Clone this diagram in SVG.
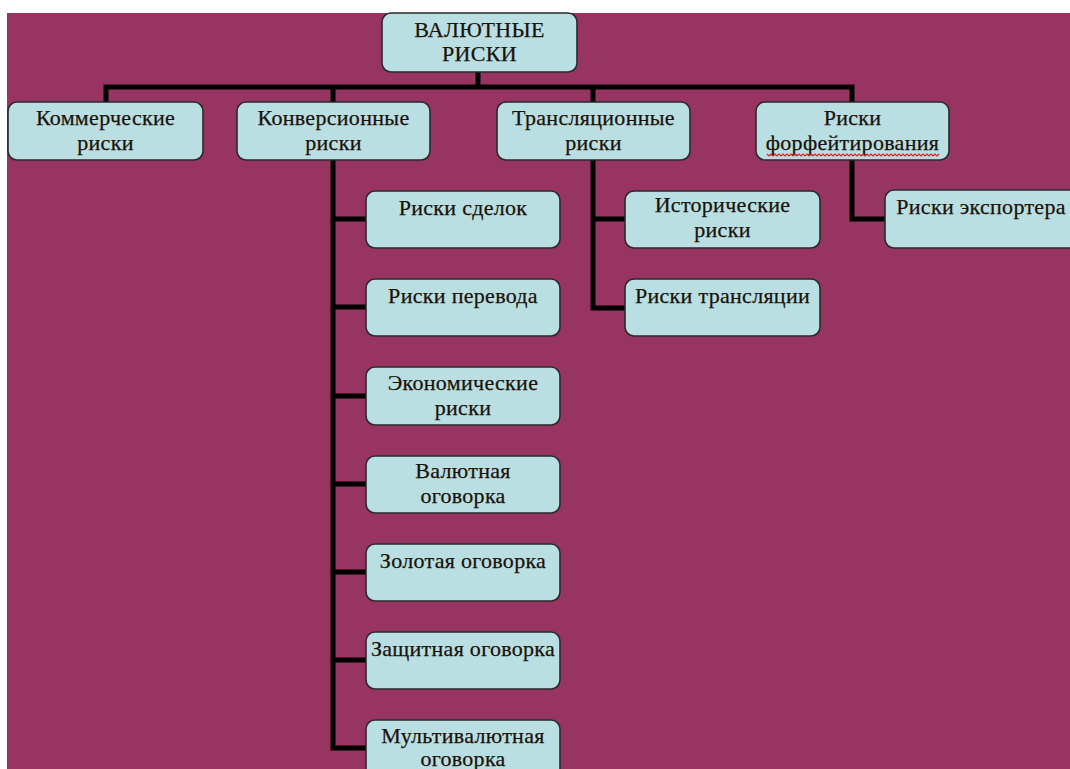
<svg xmlns="http://www.w3.org/2000/svg" width="1070" height="769" viewBox="0 0 1070 769">
<style>
.bx{fill:#BADFE3;stroke:#2a2a2a;stroke-width:1.6}
.t{font-family:'Liberation Serif','Times New Roman',serif;font-size:22px;letter-spacing:0.3px;fill:#1a1208;stroke:#1a1208;stroke-width:0.25;text-anchor:middle}
.c{fill:none;stroke:#000;stroke-width:5;stroke-linejoin:miter;stroke-linecap:butt}
</style>
<rect x="0" y="0" width="1070" height="769" fill="#ffffff"/>
<rect x="7" y="13" width="1063" height="756" fill="#973462"/>
<g id="connectors">
<path class="c" d="M478 72 V87"/>
<path class="c" d="M106 102 V87 H852 V102"/>
<path class="c" d="M333 87 V102"/>
<path class="c" d="M593 87 V102"/>
<path class="c" d="M333 160 V748 H366"/>
<path class="c" d="M333 219 H366 M333 307 H366 M333 396 H366 M333 484 H366 M333 572 H366 M333 660 H366"/>
<path class="c" d="M593 160 V308 H625 M593 219 H625"/>
<path class="c" d="M852 160 V219 H885"/>
</g>
<g id="n-root"><rect class="bx" x="382" y="13" width="195" height="59" rx="9"/><text class="t" x="479.5" y="37">ВАЛЮТНЫЕ</text><text class="t" x="479.5" y="61">РИСКИ</text></g>
<g id="n-comm"><rect class="bx" x="8" y="102" width="195" height="58" rx="9"/><text class="t" x="105.5" y="125">Коммерческие</text><text class="t" x="105.5" y="150">риски</text></g>
<g id="n-conv"><rect class="bx" x="237" y="102" width="193" height="58" rx="9"/><text class="t" x="333.5" y="125">Конверсионные</text><text class="t" x="333.5" y="150">риски</text></g>
<g id="n-trans"><rect class="bx" x="497" y="102" width="193" height="58" rx="9"/><text class="t" x="593.5" y="125">Трансляционные</text><text class="t" x="593.5" y="150">риски</text></g>
<g id="n-forf"><rect class="bx" x="756" y="102" width="193" height="58" rx="9"/><text class="t" x="852.5" y="125">Риски</text><text class="t" x="852.5" y="150">форфейтирования</text><path d="M767 154 l2 2 l2 -2 l2 2 l2 -2 l2 2 l2 -2 l2 2 l2 -2 l2 2 l2 -2 l2 2 l2 -2 l2 2 l2 -2 l2 2 l2 -2 l2 2 l2 -2 l2 2 l2 -2 l2 2 l2 -2 l2 2 l2 -2 l2 2 l2 -2 l2 2 l2 -2 l2 2 l2 -2 l2 2 l2 -2 l2 2 l2 -2 l2 2 l2 -2 l2 2 l2 -2 l2 2 l2 -2 l2 2 l2 -2 l2 2 l2 -2 l2 2 l2 -2 l2 2 l2 -2 l2 2 l2 -2 l2 2 l2 -2 l2 2 l2 -2 l2 2 l2 -2 l2 2 l2 -2 l2 2 l2 -2 l2 2 l2 -2 l2 2 l2 -2 l2 2 l2 -2 l2 2 l2 -2 l2 2 l2 -2 l2 2 l2 -2 l2 2 l2 -2 l2 2 l2 -2 l2 2 l2 -2 l2 2 l2 -2 l2 2 l2 -2 l2 2 l2 -2 l2 2 l2 -2" fill="none" stroke="#e02020" stroke-width="1.2"/></g>
<g id="n-sdelok"><rect class="bx" x="366" y="191" width="194" height="57" rx="9"/><text class="t" x="463" y="215">Риски сделок</text></g>
<g id="n-perevoda"><rect class="bx" x="366" y="279" width="194" height="57" rx="9"/><text class="t" x="463" y="303">Риски перевода</text></g>
<g id="n-econ"><rect class="bx" x="366" y="367" width="194" height="58" rx="9"/><text class="t" x="463" y="390">Экономические</text><text class="t" x="463" y="415">риски</text></g>
<g id="n-valut"><rect class="bx" x="366" y="456" width="194" height="57" rx="9"/><text class="t" x="463" y="478">Валютная</text><text class="t" x="463" y="503">оговорка</text></g>
<g id="n-zolot"><rect class="bx" x="366" y="544" width="194" height="57" rx="9"/><text class="t" x="463" y="568">Золотая оговорка</text></g>
<g id="n-zasch"><rect class="bx" x="366" y="632" width="194" height="57" rx="9"/><text class="t" x="463" y="656">Защитная оговорка</text></g>
<g id="n-multi"><rect class="bx" x="366" y="720" width="194" height="58" rx="9"/><text class="t" x="463" y="743">Мультивалютная</text><text class="t" x="463" y="766">оговорка</text></g>
<g id="n-istor"><rect class="bx" x="625" y="191" width="195" height="57" rx="9"/><text class="t" x="722.5" y="212">Исторические</text><text class="t" x="722.5" y="237">риски</text></g>
<g id="n-transl"><rect class="bx" x="625" y="279" width="195" height="57" rx="9"/><text class="t" x="722.5" y="303">Риски трансляции</text></g>
<g id="n-export"><rect class="bx" x="885" y="190" width="196" height="58" rx="9"/><text class="t" x="981" y="214">Риски экспортера</text></g>
</svg>
